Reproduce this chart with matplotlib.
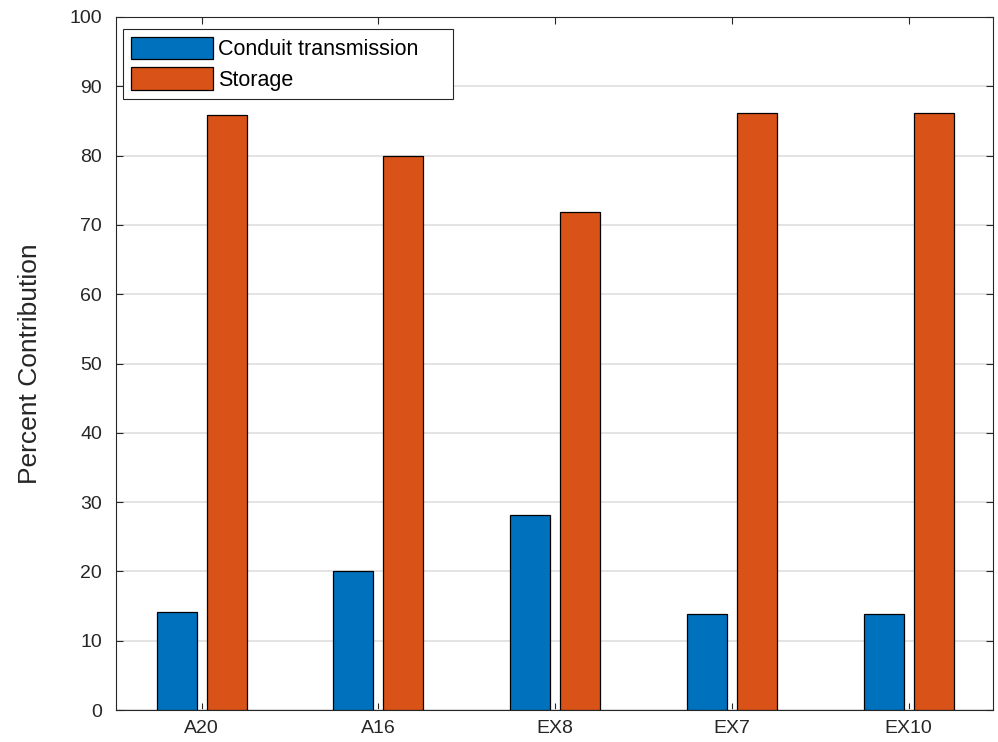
import matplotlib.pyplot as plt
from matplotlib.patches import Rectangle
import numpy as np

plt.rcParams['font.family'] = ['Liberation Sans', 'DejaVu Sans']

# data
cases = ['A20', 'A16', 'EX8', 'EX7', 'EX10']
conduit = [14.2, 20.0, 28.2, 13.9, 13.9]
storage = [85.8, 80.0, 71.8, 86.1, 86.1]
yticks = list(range(0, 101, 10))

blue = '#0072BD'
orange = '#D95319'
txt = '#262626'

fig = plt.figure(figsize=(9.98, 7.42), dpi=100)
ax = fig.add_axes([0.1162, 0.0431, 0.8788, 0.9340])

x = np.arange(1, len(cases) + 1)
w = 0.226
off = 0.1415
ax.bar(x - off, conduit, w, color=blue, edgecolor='black', linewidth=0.9,
       label='Conduit transmission', zorder=3)
ax.bar(x + off, storage, w, color=orange, edgecolor='black', linewidth=0.9,
       label='Storage', zorder=3)

ax.set_xlim(0.515, 5.478)
ax.set_ylim(0, 100)
ax.set_xticks(x)
ax.set_xticklabels(cases)
ax.set_yticks(yticks)
ax.tick_params(direction='in', length=5, width=0.8, colors='#262626',
               labelsize=14, labelcolor=txt, top=True, right=True)
ax.tick_params(axis='x', pad=7)
ax.tick_params(axis='y', pad=10)
ax.grid(axis='y', color='#dedede', linewidth=1.2, zorder=0)
for s in ax.spines.values():
    s.set_color('#262626')
    s.set_linewidth(0.8)

ax.set_ylabel('Percent Contribution', fontsize=19, color=txt, labelpad=20)

# matlab-style legend box (wider than the text), legend drawn without frame
ax.add_patch(Rectangle((0.008, 0.8817), 0.376, 0.101, transform=ax.transAxes,
                       facecolor='white', edgecolor='#262626', linewidth=0.8,
                       zorder=4))
leg = ax.legend(loc='upper left', fontsize=15.5, frameon=False,
                handlelength=3.8, handleheight=1.2, handletextpad=0.25,
                borderaxespad=0.0, labelspacing=0.33, borderpad=0.0,
                bbox_to_anchor=(0.017, 0.971))
leg.set_zorder(5)

fig.savefig('out.png', dpi=100)
